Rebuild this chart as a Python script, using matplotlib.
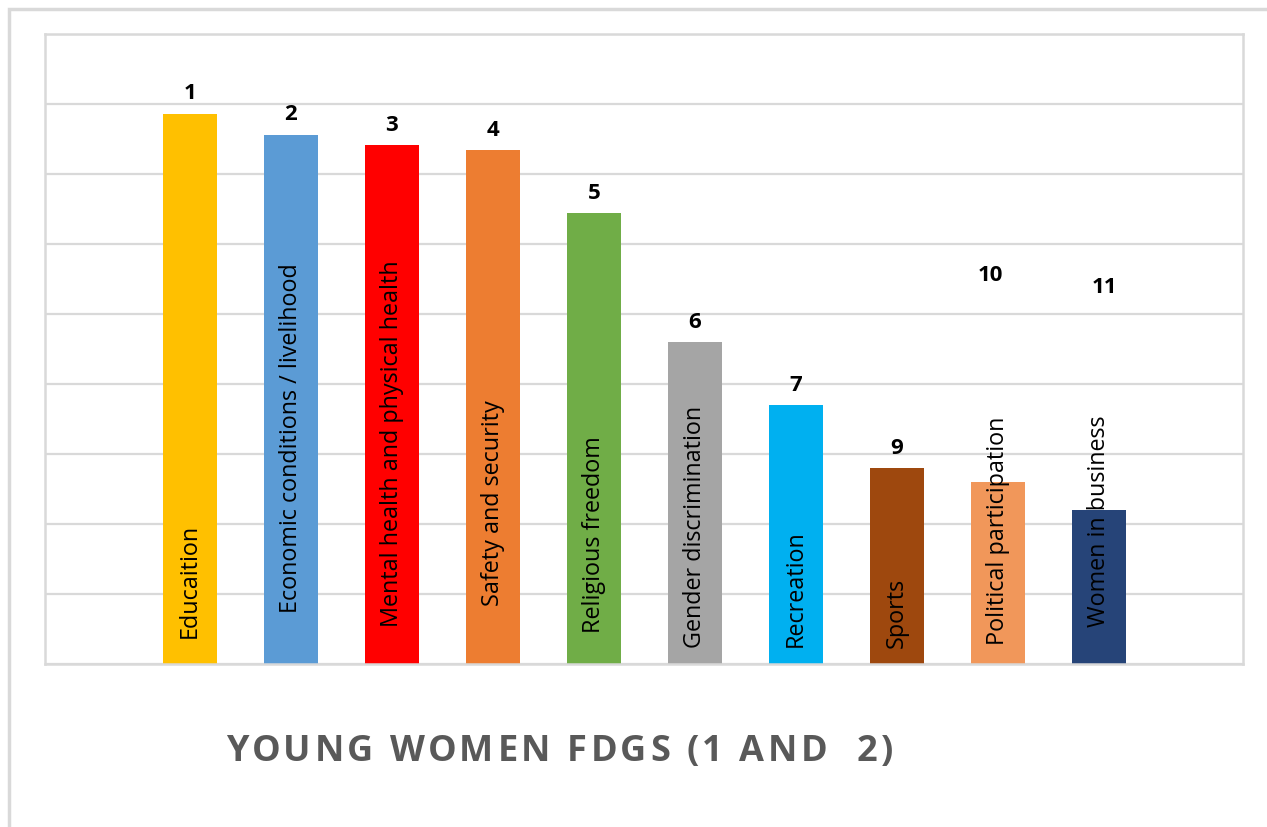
import matplotlib
matplotlib.use("Agg")
import matplotlib.pyplot as plt
from matplotlib.patches import Rectangle

categories = ["Educaition", "Economic conditions / livelihood", "Mental health and physical health",
              "Safety and security", "Religious freedom", "Gender discrimination", "Recreation",
              "Sports", "Political participation", "Women in business"]
ranks = ["1", "2", "3", "4", "5", "6", "7", "9", "10", "11"]
values = [7.86, 7.56, 7.41, 7.34, 6.44, 4.60, 3.70, 2.80, 2.60, 2.20]
colors = ["#FFC000", "#5B9BD5", "#FF0000", "#ED7D31", "#70AD47", "#A5A5A5",
          "#00B0F0", "#9E480E", "#F1975A", "#264478"]
title = "YOUNG WOMEN FDGS (1 AND  2)"

plt.rcParams['font.family'] = ['Open Sans', 'DejaVu Sans']

fig = plt.figure(figsize=(12.67, 8.28), dpi=100)
W, H = 1267, 828
# outer chart border
fig.patches.append(Rectangle((9 / W, -0.1), 1.2, (828 - 10) / H + 0.1, transform=fig.transFigure,
                             fill=False, edgecolor="#d9d9d9", linewidth=2.5))

ax = fig.add_axes([45 / W, (828 - 665) / H, (1243 - 45) / W, (665 - 35) / H])
x = list(range(len(categories)))
ax.bar(x, values, width=0.535, color=colors, zorder=2)
ax.set_xlim(-1.436, 10.43)
ax.set_ylim(0, 9)
ax.set_yticks(range(0, 10))
ax.yaxis.grid(True, color="#d9d9d9", linewidth=1.6, zorder=0)
ax.tick_params(left=False, bottom=False, labelleft=False, labelbottom=False)
for s in ax.spines.values():
    s.set_color("#d9d9d9")
    s.set_linewidth(1.8)

# text bottoms (in data units) inside bars
text_bottoms = [0.39, 0.74, 0.54, 0.84, 0.46, 0.24, 0.26, 0.24, 0.29, 0.54]
for xi, cat, tb in zip(x, categories, text_bottoms):
    ax.text(xi, tb, cat, rotation=90, ha="center", va="bottom", fontsize=16.8,
            color="black", zorder=3)

# rank labels
override = {8: (-0.07, 5.57), 9: (0.06, 5.39)}
for xi, r, v in zip(x, ranks, values):
    if xi in override:
        dx, yy = override[xi]
        ax.text(xi + dx, yy, r, ha="center", va="center", fontsize=16, fontweight="bold", zorder=3)
    else:
        ax.annotate(r, (xi, v), xytext=(0, 15), textcoords="offset points", ha="center",
                    va="center", fontsize=16, fontweight="bold", zorder=3)

# title with letter spacing
renderer = fig.canvas.get_renderer()
tkw = dict(fontsize=26, fontweight="bold", color="#595959", va="center", ha="left")


def text_width(s):
    t = fig.text(0, 0, s + "X", **tkw)
    w1 = t.get_window_extent(renderer).width
    t.remove()
    t = fig.text(0, 0, "X", **tkw)
    w2 = t.get_window_extent(renderer).width
    t.remove()
    return w1 - w2


spacing = 3.5
total = text_width(title) + spacing * (len(title) - 1)
x0 = (226 + 893) / 2 - total / 2
yc = 1 - 752 / H
for i, ch in enumerate(title):
    if ch == " ":
        continue
    px = x0 + text_width(title[:i]) + spacing * i
    fig.text(px / W, yc, ch, **tkw)

fig.savefig("out.png", dpi=100)
